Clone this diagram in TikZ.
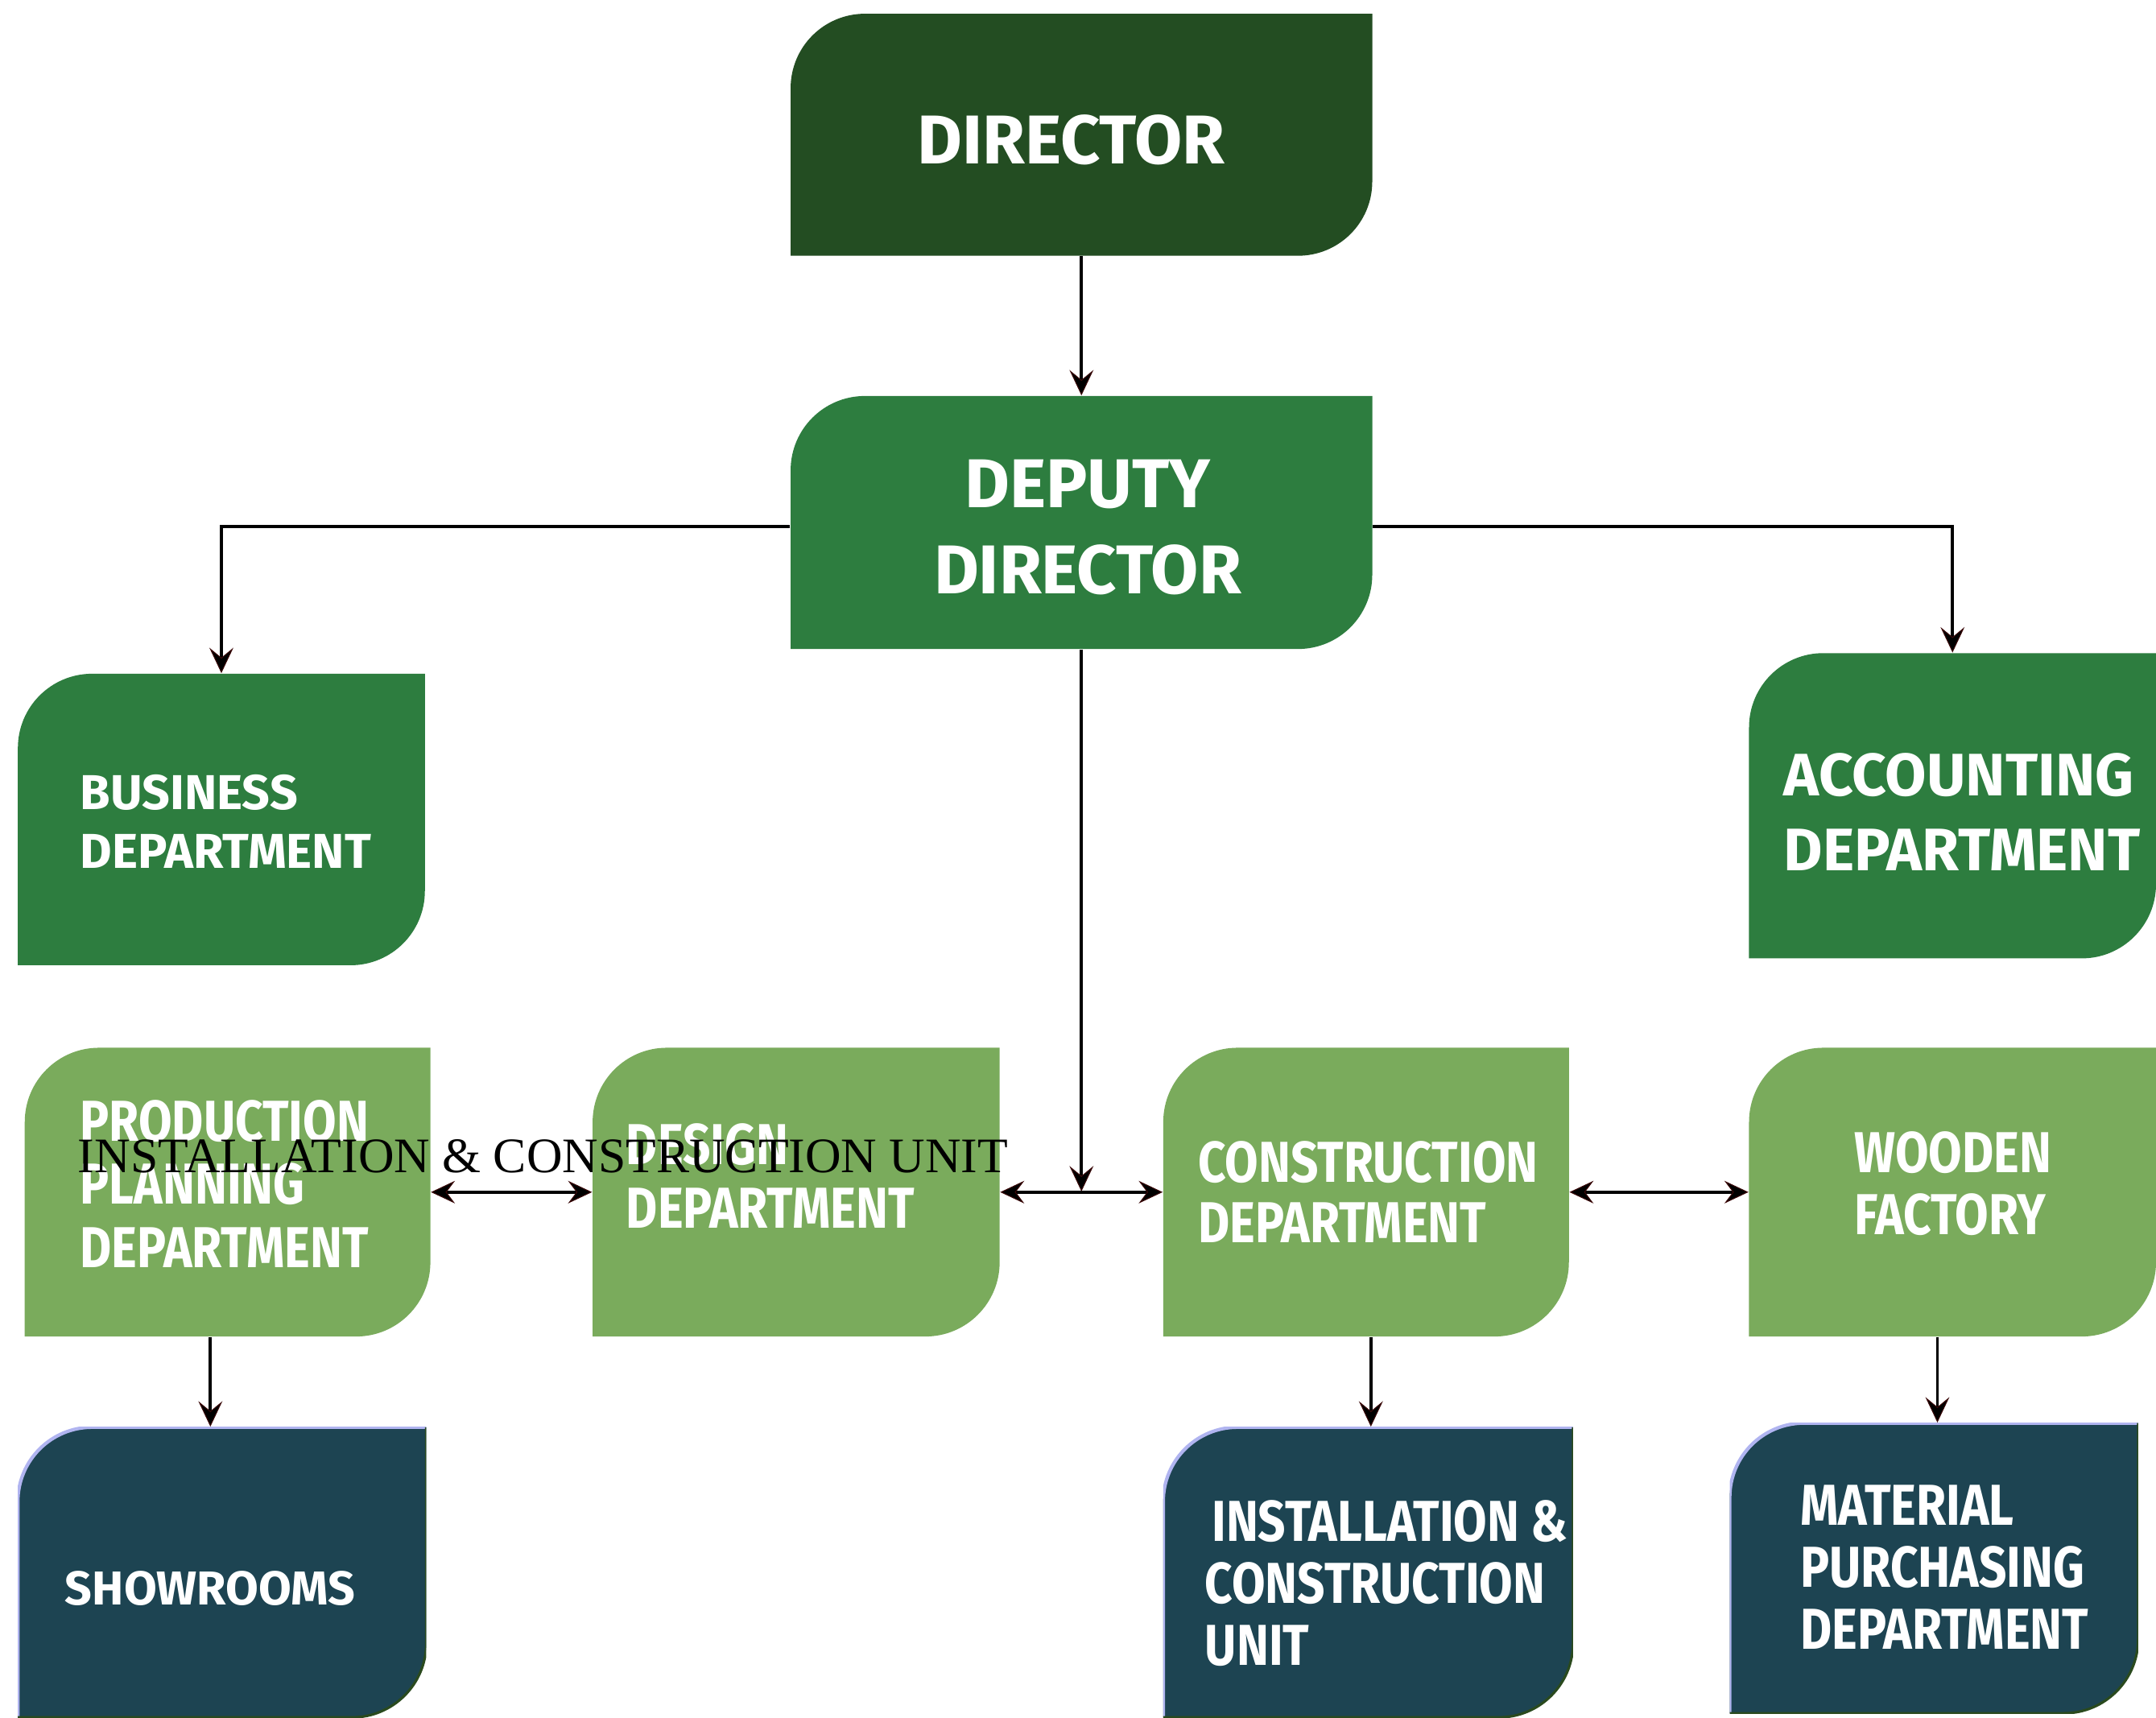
\documentclass[tikz,border=0pt]{standalone}
\usepackage{fontspec}
\setmainfont{Liberation Serif}
\newfontfamily\boxfont{Fira Sans}
\newfontfamily\condfont[FakeStretch=0.84]{Fira Sans}
\usetikzlibrary{arrows.meta,calc}
\definecolor{dirgreen}{HTML}{234D22}
\definecolor{midgreen}{HTML}{2D7D3F}
\definecolor{lightgreen}{HTML}{7AAB5C}
\definecolor{tealbox}{HTML}{1D4452}
\definecolor{lavedge}{HTML}{B0B4F0}
\definecolor{darkedge}{HTML}{2A4A1E}
\definecolor{tipedge}{HTML}{3A0808}
\def\u{0.01708cm}
\def\rr{0.922cm}
\tikzset{
  leaf/.style n args={3}{rectangle, inner sep=0pt,
    minimum width={#2*\u}, minimum height={#3*\u},
    path picture={
      \fill[#1] (path picture bounding box.south west)
        -- ([yshift=-\rr]path picture bounding box.north west)
        arc[start angle=180, end angle=90, radius=\rr]
        -- (path picture bounding box.north east)
        -- ([yshift=\rr]path picture bounding box.south east)
        arc[start angle=0, end angle=-90, radius=\rr] -- cycle;
    }},
  tealleaf/.style 2 args={rectangle, inner sep=0pt,
    minimum width={#1*\u}, minimum height={#2*\u},
    path picture={
      \fill[tealbox] (path picture bounding box.south west)
        -- ([yshift=-\rr]path picture bounding box.north west)
        arc[start angle=180, end angle=90, radius=\rr]
        -- (path picture bounding box.north east)
        -- ([yshift=\rr]path picture bounding box.south east)
        arc[start angle=0, end angle=-90, radius=\rr] -- cycle;
      \draw[lavedge, line width=1.2pt] (path picture bounding box.south west)
        -- ([yshift=-\rr]path picture bounding box.north west)
        arc[start angle=180, end angle=90, radius=\rr]
        -- (path picture bounding box.north east);
      \draw[darkedge, line width=0.9pt] (path picture bounding box.north east)
        -- ([yshift=\rr]path picture bounding box.south east)
        arc[start angle=0, end angle=-90, radius=\rr]
        -- (path picture bounding box.south west);
    }},
  ttl/.style={text=white, inner sep=0pt, align=center,
    font={\boxfont\bfseries\fontsize{24.4}{30.6}\selectfont}},
  lbl/.style={text=white, inner sep=0pt, anchor=west, align=left},
  cond/.style={text=white, inner sep=0pt, anchor=west, align=left,
    font={\condfont\bfseries\fontsize{20.4}{22.4}\selectfont}},
  arr/.style={draw=black, line width=1.1pt,
    -{Stealth[length=9pt, width=8.5pt, inset=3.5pt, color=tipedge, fill=black, line width=0.3pt]}},
  darr/.style={draw=black, line width=1.1pt,
    {Stealth[length=8.5pt, width=8pt, inset=3pt, color=tipedge, fill=black, line width=0.3pt]}-{Stealth[length=8.5pt, width=8pt, inset=3pt, color=tipedge, fill=black, line width=0.3pt]}},
}
\begin{document}
\begin{tikzpicture}[x=\u, y=-\u]
\useasboundingbox (0,0) rectangle (1568,1249);

% boxes
\node[leaf={dirgreen}{423}{176}] (director) at (786.5,98) {};
\node[leaf={midgreen}{423}{184}] (deputy) at (786.5,380) {};
\node[leaf={midgreen}{296}{212}] (business) at (161,596) {};
\node[leaf={midgreen}{296}{222}] (accounting) at (1420,586) {};
\node[leaf={lightgreen}{295}{210}] (production) at (165.5,867) {};
\node[leaf={lightgreen}{296}{210}] (design) at (579,867) {};
\node[leaf={lightgreen}{295}{210}] (construction) at (993.5,867) {};
\node[leaf={lightgreen}{296}{210}] (wooden) at (1420,867) {};
\node[tealleaf={297}{211}] (showrooms) at (161.5,1143.5) {};
\node[tealleaf={298}{211}] (install) at (995,1143.5) {};
\node[tealleaf={297}{211}] (material) at (1406.5,1140.5) {};

% texts
\node[ttl] (director-t) at (779,102) {DIRECTOR};
\node[ttl] (deputy-t) at (791,383.5) {DEPUTY\\DIRECTOR};
\node[lbl, font={\boxfont\bfseries\fontsize{17.3}{20.9}\selectfont}] (business-t) at (58,597.5) {BUSINESS\\DEPARTMENT};
\node[lbl, font={\boxfont\bfseries\fontsize{21.2}{26.7}\selectfont}] (accounting-t) at (1297,590.5) {ACCOUNTING\\DEPARTMENT};
\node[cond] (production-t) at (58,861) {PRODUCTION\\PLANNING\\DEPARTMENT};
\node[cond] (design-t) at (455,855) {DESIGN\\DEPARTMENT};
\node[cond, font={\condfont\bfseries\fontsize{20.4}{21.4}\selectfont}] (construction-t) at (871,867) {CONSTRUCTION\\DEPARTMENT};
\node[cond, font={\condfont\bfseries\fontsize{20.4}{21.9}\selectfont}] (wooden-t) at (1348,860.5) {WOODEN\\FACTORY};
\node[lbl, font={\boxfont\bfseries\fontsize{16.8}{20.9}\selectfont}] (showrooms-t) at (47,1155) {SHOWROOMS};
\node[cond, font={\condfont\bfseries\fontsize{20.4}{21.9}\selectfont}] (install-t) at (876,1151.5) {\hspace*{0.085cm}INSTALLATION \&\\CONSTRUCTION\\UNIT};
\node[cond, font={\condfont\bfseries\fontsize{20.4}{21.9}\selectfont}] (material-t) at (1309,1140) {MATERIAL\\PURCHASING\\DEPARTMENT};

% connectors
\draw[arr] (director.south) -- (deputy.north);
\draw[arr] ([yshift=-3*\u]deputy.west) -| (business.north);
\draw[arr] ([yshift=-3*\u]deputy.east) -| (accounting.north);
\coordinate (junc) at (786.5,866.5);
\draw[arr] (deputy.south) -- (junc);
\draw[darr] (production.east) -- (design.west);
\draw[darr] (design.east) -- (construction.west);
\draw[darr] (construction.east) -- (wooden.west);
\draw[arr] ([xshift=-12.5*\u]production.south) -- ([xshift=-8.5*\u]showrooms.north);
\draw[arr] ([xshift=3.5*\u]construction.south) -- ([xshift=2*\u]install.north);
\draw[arr] ([xshift=-11*\u]wooden.south) -- ([xshift=2.5*\u]material.north);

% overlaid serif text
\node[inner sep=0pt, anchor=base, font={\fontsize{17.55}{20}\selectfont}] (overlay) at (395,852.7) {INSTALLATION \& CONSTRUCTION UNIT};
\end{tikzpicture}
\end{document}
